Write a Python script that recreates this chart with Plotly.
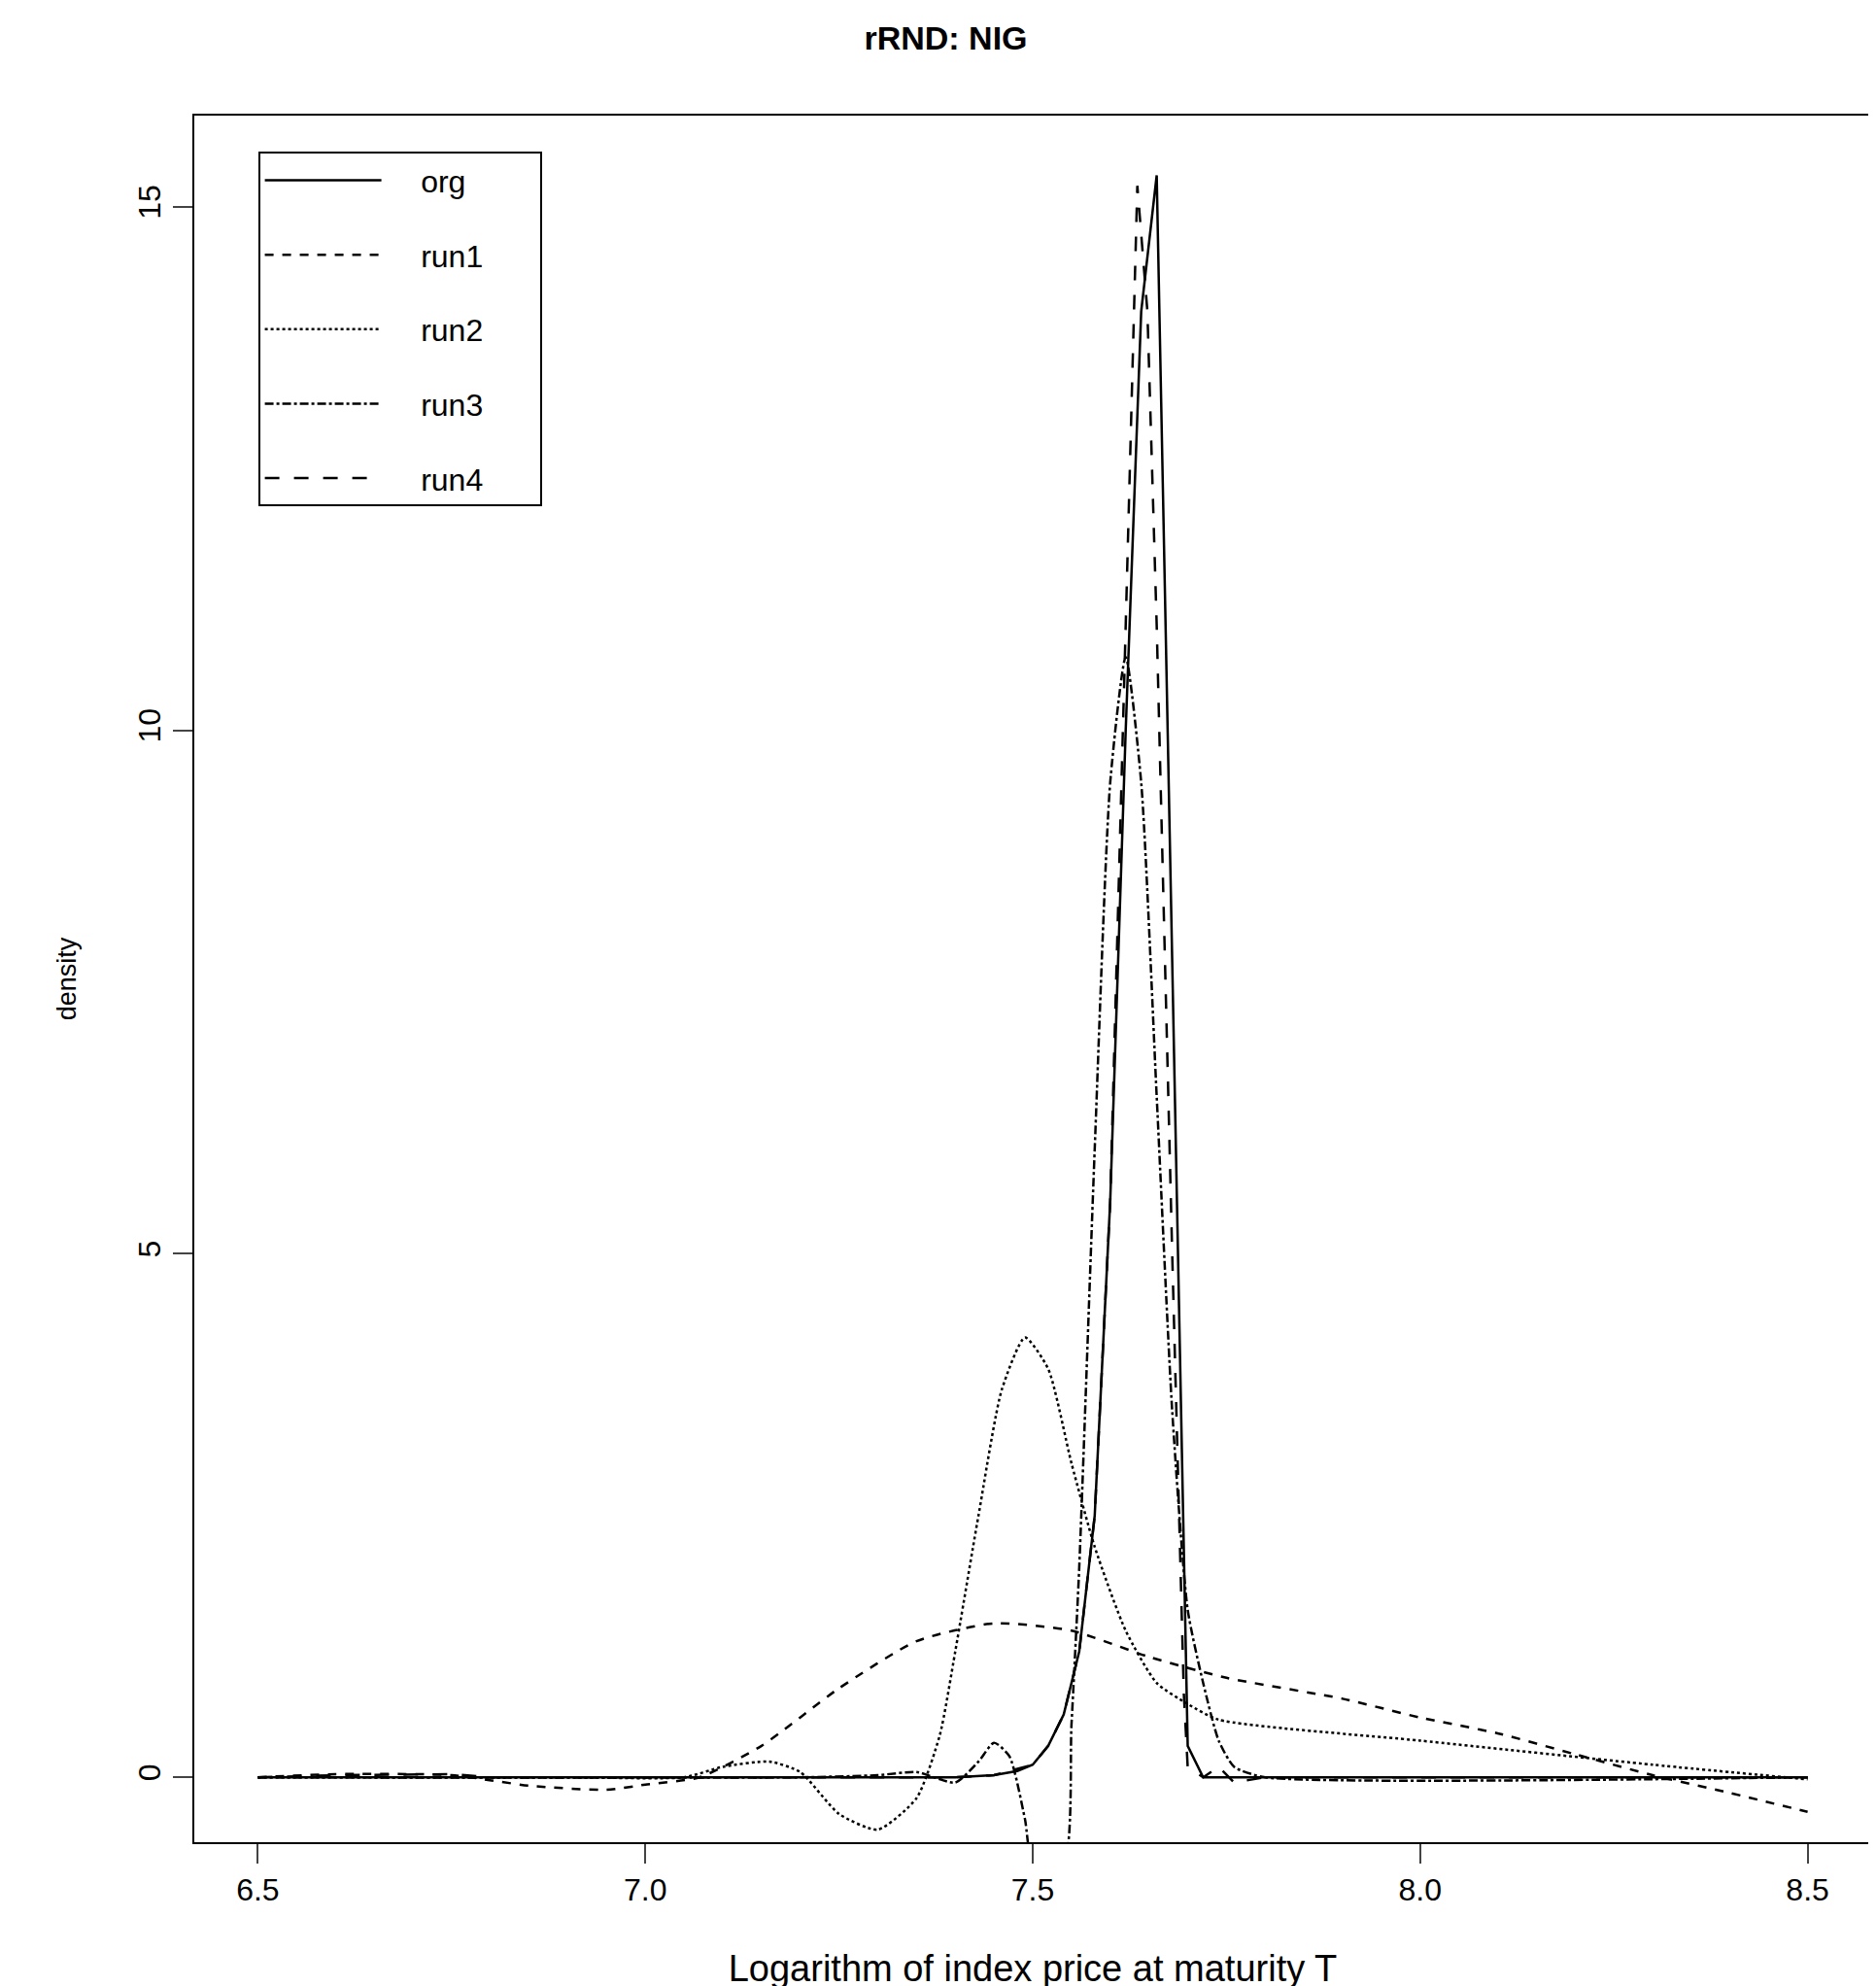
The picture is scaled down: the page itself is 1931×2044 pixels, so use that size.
import plotly.graph_objects as go

org_x = [6.5, 7.0, 7.4, 7.45, 7.48, 7.5, 7.52, 7.54, 7.56, 7.58, 7.6, 7.62, 7.64, 7.66, 7.70, 7.72, 8.5]
org_y = [0, 0, 0, 0.02, 0.06, 0.12, 0.3, 0.6, 1.2, 2.5, 5.5, 10, 14, 15.3, 0.3, 0, 0]

run1_x = [6.5, 6.6, 6.75, 6.85, 6.95, 7.0, 7.07, 7.15, 7.25, 7.35, 7.45, 7.55, 7.65, 7.75, 7.9, 8.0, 8.1, 8.2, 8.3, 8.4, 8.5]
run1_y = [0, 0.03, 0.02, -0.08, -0.12, -0.07, 0, 0.3, 0.85, 1.3, 1.47, 1.4, 1.15, 0.95, 0.75, 0.57, 0.42, 0.22, 0.02, -0.15, -0.33]

run2_x = [6.5, 6.9, 7.05, 7.1, 7.16, 7.2, 7.25, 7.30, 7.35, 7.38, 7.40, 7.43, 7.46, 7.49, 7.52, 7.55, 7.58, 7.62, 7.66, 7.70, 7.74, 8.0, 8.3, 8.5]
run2_y = [0, 0, 0, 0.1, 0.15, 0.05, -0.35, -0.5, -0.2, 0.4, 1.2, 2.5, 3.7, 4.2, 3.9, 3.0, 2.2, 1.4, 0.9, 0.7, 0.55, 0.35, 0.12, -0.02]

run3_x = [6.5, 7.2, 7.3, 7.35, 7.4, 7.43, 7.45, 7.47, 7.49, 7.50, 7.54, 7.55, 7.56, 7.58, 7.60, 7.62, 7.64, 7.66, 7.68, 7.70, 7.72, 7.74, 7.76, 7.8, 8.5]
run3_y = [0, 0, 0.02, 0.05, -0.05, 0.15, 0.33, 0.2, -0.4, -0.8, -0.8, 0.5, 2, 6, 9.5, 10.7, 9.5, 6.5, 3.5, 1.6, 0.9, 0.35, 0.1, 0, 0]

run4_x = [6.5, 6.6, 6.75, 6.8, 7.4, 7.45, 7.5, 7.52, 7.54, 7.56, 7.58, 7.60, 7.62, 7.635, 7.648, 7.66, 7.68, 7.695, 7.70, 7.72, 7.74, 7.76, 7.8, 8.5]
run4_y = [0, 0.02, 0.03, 0, 0, 0.02, 0.12, 0.3, 0.6, 1.2, 2.5, 5.5, 11, 15.2, 14.0, 11, 5, 0.8, 0.1, 0, 0.1, -0.05, 0, 0]

series = [("org", org_x, org_y, "solid", "linear"), ("run1", run1_x, run1_y, "dash", "spline"),
          ("run2", run2_x, run2_y, "dot", "spline"), ("run3", run3_x, run3_y, "dashdot", "spline"),
          ("run4", run4_x, run4_y, "longdash", "linear")]

fig = go.Figure()
for name, xs, ys, d, sh in series:
    fig.add_trace(go.Scatter(x=xs, y=ys, mode="lines", name="    " + name + "      ",
                             legendgroup=name,
                             line=dict(color="black", width=2.5, dash=d, shape=sh,
                                       smoothing=0.6 if sh == "spline" else None)))

font = "Liberation Sans, Arial, sans-serif"
fig.update_layout(
    width=1931, height=2044, plot_bgcolor="white", paper_bgcolor="white",
    margin=dict(l=192, r=13, t=111, b=156),
    title=dict(text="<b>rRND: NIG</b>", x=0.5, xanchor="center", y=0.985, yanchor="middle",
               font=dict(family=font, size=34, color="black")),
    font=dict(family=font, size=32, color="black"),
    showlegend=True,
    legend=dict(x=0.038, y=0.979, xanchor="left", yanchor="top", bordercolor="black",
                borderwidth=2, bgcolor="white", itemwidth=120, tracegroupgap=32,
                font=dict(size=32)),
    xaxis=dict(range=[6.418, 8.582], tickvals=[6.5, 7.0, 7.5, 8.0, 8.5],
               ticktext=["6.5", "7.0", "7.5", "8.0", "8.5"], showgrid=False, zeroline=False,
               showline=True, linecolor="black", linewidth=2, mirror=True,
               ticks="outside", ticklen=20, tickwidth=2,
               title=dict(text="Logarithm of index price at maturity T", standoff=50)),
    yaxis=dict(range=[-0.62, 15.87], tickvals=[0, 5, 10, 15], showgrid=False, zeroline=False,
               showline=True, linecolor="black", linewidth=2, mirror=True,
               ticks="outside", ticklen=20, tickwidth=2, tickangle=-90,
               title=dict(text="density", standoff=50, font=dict(size=27))),
)
fig.write_html("out.html")
